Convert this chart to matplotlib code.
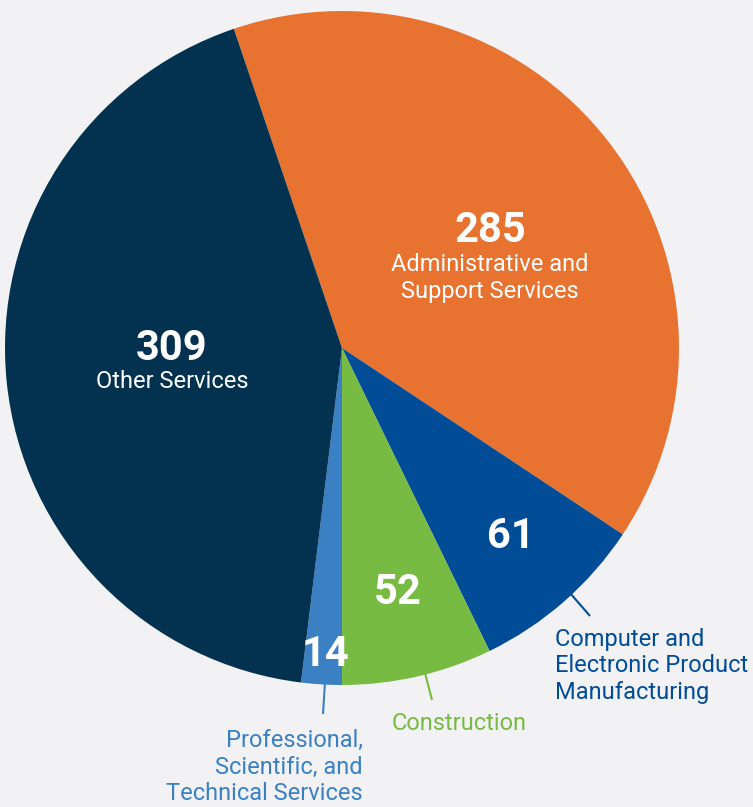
import matplotlib
matplotlib.use("Agg")
import matplotlib.pyplot as plt

categories = ["Administrative and\nSupport Services",
              "Computer and\nElectronic Product\nManufacturing",
              "Construction",
              "Professional,\nScientific, and\nTechnical Services",
              "Other Services"]
values = [285, 61, 52, 14, 309]
colors = ["#E8722F", "#004C97", "#78BB43", "#3A80C3", "#023250"]

W, H = 753, 807
BG = "#F2F2F5"
plt.rcParams['font.family'] = ['Roboto', 'DejaVu Sans']

fig = plt.figure(figsize=(W / 100, H / 100), dpi=100, facecolor=BG)
ax = fig.add_axes([0, 0, 1, 1])
ax.set_facecolor(BG)

cx, cy, R = 342, 348, 337
total = sum(values)
# start so that the first three slices end straight down
start = 90 - (180 - 360 * sum(values[:3]) / total)

wedges, _ = ax.pie(values, colors=colors, startangle=start, counterclock=False,
                   radius=R, center=(cx, H - cy),
                   wedgeprops=dict(linewidth=0, antialiased=True))
ax.set_xlim(0, W)
ax.set_ylim(0, H)
ax.set_aspect('equal')
ax.axis('off')

def P(px, py):
    return (px, H - py)

white = "white"
num_fs = 30
lab_fs = 17
ls = 1.22

# inside labels
ax.text(*P(490, 230), str(values[0]), color=white, fontsize=num_fs, fontweight='bold', ha='center', va='center')
ax.text(*P(490, 278), categories[0], color=white, fontsize=lab_fs, ha='center', va='center', linespacing=ls)
ax.text(*P(172, 349), str(values[4]), color=white, fontsize=num_fs, fontweight='bold', ha='center', va='center')
ax.text(*P(172, 382), categories[4], color=white, fontsize=lab_fs, ha='center', va='center')
ax.text(*P(511, 536), str(values[1]), color=white, fontsize=num_fs, fontweight='bold', ha='center', va='center')
ax.text(*P(398, 593), str(values[2]), color=white, fontsize=num_fs, fontweight='bold', ha='center', va='center')
ax.text(*P(326, 654), str(values[3]), color=white, fontsize=num_fs, fontweight='bold', ha='center', va='center')

# outside labels with leader lines
ax.plot(*zip(P(570, 593), P(590, 616)), color=colors[1], lw=1.5, solid_capstyle='butt')
ax.text(*P(555, 666), categories[1], color=colors[1], fontsize=lab_fs, ha='left', va='center', linespacing=ls)

ax.plot(*zip(P(425, 673), P(432, 700)), color=colors[2], lw=1.5, solid_capstyle='butt')
ax.text(*P(459, 723), categories[2], color=colors[2], fontsize=lab_fs, ha='center', va='center')

ax.plot(*zip(P(325, 682), P(323, 714)), color=colors[3], lw=1.5, solid_capstyle='butt')
ax.text(*P(363, 767), categories[3], color=colors[3], fontsize=lab_fs, ha='right', va='center', linespacing=ls)

fig.savefig("out.png", dpi=100, facecolor=BG)
